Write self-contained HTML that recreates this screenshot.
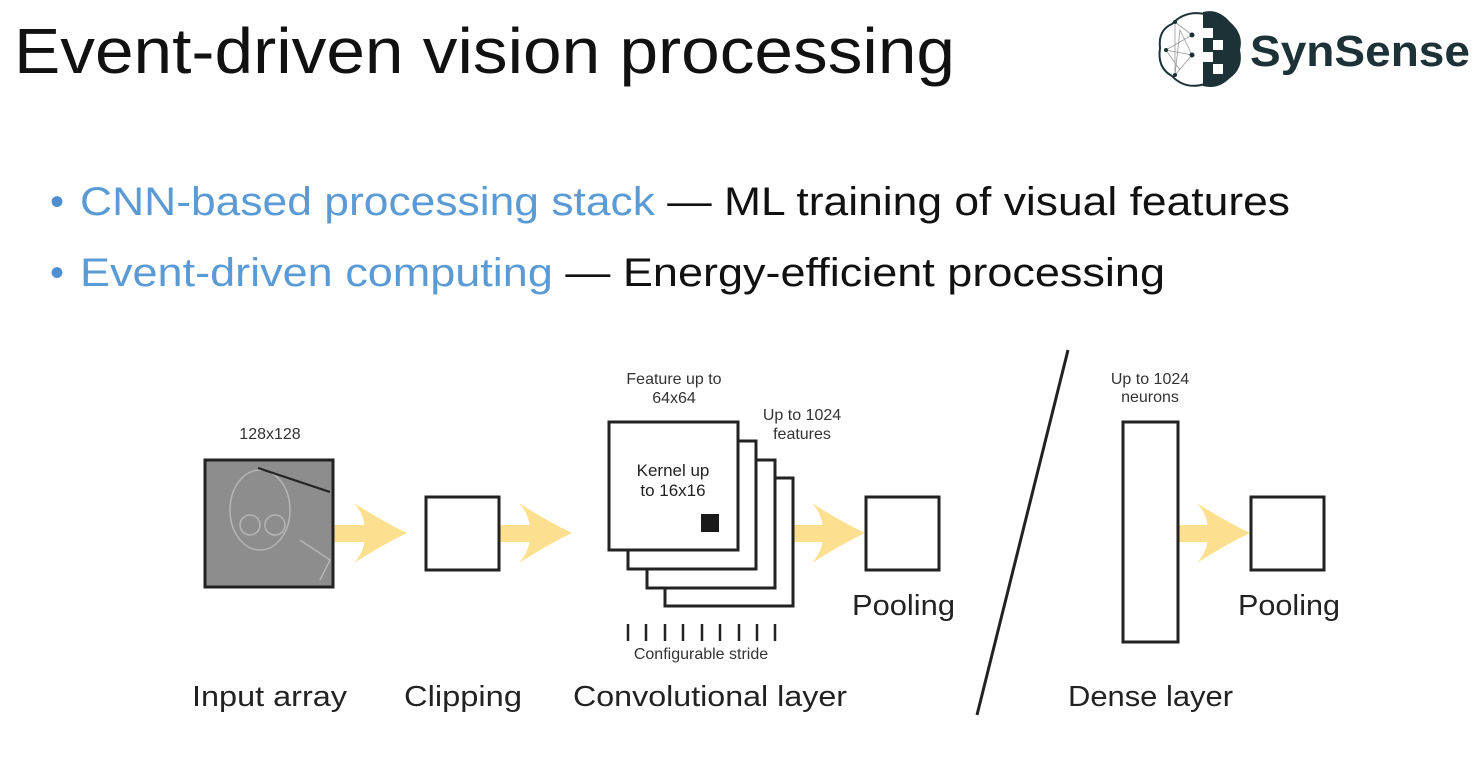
<!DOCTYPE html>
<html><head><meta charset="utf-8"><style>
body{margin:0;width:1484px;height:766px;background:#fff;overflow:hidden;font-family:"Liberation Sans",sans-serif;}
</style></head><body>
<svg width="1484" height="766" xmlns="http://www.w3.org/2000/svg" style="position:absolute;left:0;top:0">
<defs>
<g id="ah"><path d="M-53,-30 Q-25,-12 0,0 Q-25,12 -53,30 Q-40,15 -43,0 Q-40,-15 -53,-30 Z" fill="#fde08f"/></g>
</defs>
<text x="14" y="73" font-size="64" fill="#111" textLength="941" lengthAdjust="spacingAndGlyphs">Event-driven vision processing</text>
<g font-size="40" fill="#111">
<text x="50" y="215" fill="#4f8fd0">•</text><text x="80" y="215" textLength="1210" lengthAdjust="spacingAndGlyphs"><tspan fill="#5b9bd5">CNN-based processing stack</tspan> — ML training of visual features</text>
<text x="50" y="286" fill="#4f8fd0">•</text><text x="80" y="286" textLength="1085" lengthAdjust="spacingAndGlyphs"><tspan fill="#5b9bd5">Event-driven computing</tspan> — Energy-efficient processing</text>
</g>
<!-- logo -->
<g>
<path d="M1205,14 Q1185,10 1172,24 Q1158,30 1160,48 Q1157,68 1172,76 Q1185,90 1205,84 Z" fill="#fff" stroke="#1c3236" stroke-width="2"/>
<path d="M1203,12 Q1218,8 1230,22 Q1244,34 1240,50 Q1244,68 1230,78 Q1218,90 1203,86 Z" fill="#1c3236"/>
<rect x="1203" y="28" width="10" height="10" fill="#fff"/><rect x="1213" y="40" width="10" height="10" fill="#fff"/><rect x="1203" y="52" width="10" height="10" fill="#fff"/><rect x="1213" y="64" width="10" height="10" fill="#fff"/>
<g stroke="#999" stroke-width="0.8" fill="none"><path d="M1175,22 L1192,35 L1166,50 L1192,55 L1175,75 L1180,30 L1192,55 M1166,50 L1192,35 M1175,22 L1175,75 M1166,50 L1180,70"/></g>
<g fill="#1c3236"><circle cx="1192" cy="35" r="2.5"/><circle cx="1192" cy="55" r="2.5"/><circle cx="1166" cy="50" r="2"/><circle cx="1175" cy="22" r="2"/><circle cx="1175" cy="75" r="2"/></g>
<text x="1250" y="66" font-size="44" font-weight="bold" fill="#1c3236" textLength="220" lengthAdjust="spacingAndGlyphs">SynSense</text>
</g>
<!-- arrows -->
<g fill="#fde08f">
<rect x="334" y="525" width="45" height="17"/><use href="#ah" x="407" y="533"/>
<rect x="499" y="525" width="45" height="17"/><use href="#ah" x="572" y="533"/>
<rect x="793" y="525" width="30" height="17"/><use href="#ah" x="865" y="533"/>
<rect x="1178" y="525" width="30" height="17"/><use href="#ah" x="1250" y="533"/>
</g>
<!-- input image -->
<rect x="205" y="460" width="128" height="127" fill="#8d8d8d" stroke="#222" stroke-width="3"/>
<g stroke="#b5b5b5" stroke-width="1.5" fill="none">
<ellipse cx="260" cy="510" rx="30" ry="40"/><circle cx="250" cy="525" r="10"/><circle cx="275" cy="525" r="10"/>
<path d="M258,468 L330,492" stroke="#222" stroke-width="2"/><path d="M300,540 L330,560 L320,580"/>
</g>
<text x="270" y="439" font-size="16" fill="#333" text-anchor="middle">128x128</text>
<g fill="#fff" stroke="#222" stroke-width="3">
<rect x="426" y="497" width="73" height="73"/>
<rect x="665" y="478" width="128" height="128"/>
<rect x="647" y="460" width="128" height="128"/>
<rect x="628" y="441" width="128" height="128"/>
<rect x="609" y="422" width="129" height="128"/>
<rect x="866" y="497" width="73" height="73"/>
<rect x="1123" y="422" width="55" height="220"/>
<rect x="1251" y="497" width="73" height="73"/>
</g>
<rect x="701" y="514" width="18" height="18" fill="#1a1a1a"/>
<g font-size="17" fill="#222" text-anchor="middle">
<text x="673" y="476">Kernel up</text><text x="673" y="496">to 16x16</text>
</g>
<g font-size="16" fill="#333" text-anchor="middle">
<text x="674" y="384">Feature up to</text><text x="674" y="403">64x64</text>
<text x="802" y="420">Up to 1024</text><text x="802" y="439">features</text>
<text x="1150" y="384">Up to 1024</text><text x="1150" y="402">neurons</text>
<text x="701" y="659">Configurable stride</text>
</g>
<g stroke="#222" stroke-width="2.5">
<path d="M628,624V641M646,624V641M665,624V641M683,624V641M702,624V641M720,624V641M739,624V641M757,624V641M775,624V641"/>
</g>
<line x1="1068" y1="350" x2="977" y2="715" stroke="#222" stroke-width="3"/>
<g font-size="29" fill="#222">
<text x="852" y="615" textLength="103" lengthAdjust="spacingAndGlyphs">Pooling</text>
<text x="1238" y="615" textLength="102" lengthAdjust="spacingAndGlyphs">Pooling</text>
<text x="192" y="706" textLength="155" lengthAdjust="spacingAndGlyphs">Input array</text>
<text x="404" y="706" textLength="118" lengthAdjust="spacingAndGlyphs">Clipping</text>
<text x="573" y="706" textLength="274" lengthAdjust="spacingAndGlyphs">Convolutional layer</text>
<text x="1068" y="706" textLength="165" lengthAdjust="spacingAndGlyphs">Dense layer</text>
</g>
</svg>
</body></html>
